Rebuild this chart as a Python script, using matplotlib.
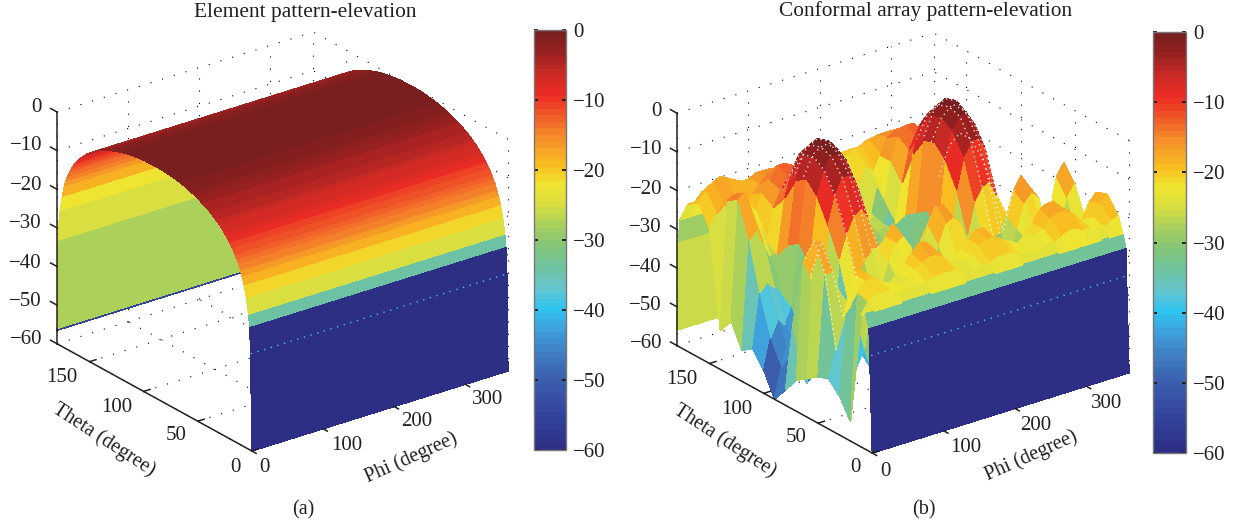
import numpy as np
import matplotlib
matplotlib.use('Agg')
import matplotlib.pyplot as plt
from matplotlib.colors import LinearSegmentedColormap, Normalize
from matplotlib.cm import ScalarMappable
from mpl_toolkits.mplot3d import proj3d

plt.rcParams['font.family'] = ['Liberation Serif', 'DejaVu Serif']

W, H = 1237, 526
INK = '#231f20'

# colours, top (0) to bottom (-60)
cbar_levels = [0, -3, -6, -9, -12, -15, -19, -22, -25, -28, -31, -34, -37, -40, -43, -46, -50, -55, -60]
cbar_colours = ['#7a1f1f', '#9b2020', '#cc2a25', '#ed2b24', '#f05a28', '#f58c2a', '#f8bc20', '#efe52f',
                '#d7de42', '#a6cf5e', '#82c57a', '#6fc2a0', '#65c6cf', '#2fc3ef', '#3fa0db', '#3f81c4',
                '#3c60ae', '#33449c', '#2d2f85']

phi_ticks = [0, 100, 200, 300]
theta_ticks = [0, 50, 100, 150]
z_ticks = [-60, -50, -40, -30, -20, -10, 0]

# (a) element pattern, same for every phi
element_phi = list(range(0, 361, 5))
element_theta = [0, 1, 2, 3, 5, 7, 9, 10.5, 12, 13.5, 15, 17.5, 20, 22.5, 25, 27.5, 30, 32.5, 35, 37.5, 40,
                 45, 50, 55, 60, 65, 70, 75, 80, 90, 100, 105, 110, 115, 120, 125, 130, 135, 140, 142.5, 145,
                 147.5, 150, 152.5, 155, 157.5, 160, 162.5, 165, 166.5, 168, 170, 171.5, 173, 175, 177,
                 178, 179, 179.9, 180]
element_db = [-60, -35, -28, -25, -21, -18, -16, -14.7, -13.5, -12.6, -11.7, -10.4, -9.3, -8.4, -7.5, -6.7,
              -6, -5.4, -4.8, -4.3, -3.8, -3, -2.3, -1.7, -1.2, -0.8, -0.5, -0.3, -0.1, 0, -0.1, -0.3, -0.5,
              -0.8, -1.2, -1.7, -2.3, -3, -3.8, -4.3, -4.8, -5.4, -6, -6.7, -7.5, -8.4, -9.3, -10.4, -11.7,
              -12.6, -13.5, -15, -16.4, -18, -21, -25, -28, -33, -56, -56.5]
# bands whose colour does not follow their edge values: first three and last five
element_near_bands = [-60, -60, -34]
element_far_bands = [-22, -25, -25, -27.5, -55]

# (b) conformal array pattern, one row per theta, one column per phi
conformal_phi = list(range(0, 361, 10))
conformal_theta = [0, 3, 6, 10, 20, 30, 40, 50, 60, 70, 80, 90, 100, 110, 120, 130, 140, 150, 160, 170, 177, 179, 180]
conformal_db = [
    [-60] * 37,
    [-28] * 37,
    [-25] * 37,
    [-26, -23, -22, -22, -22, -23, -23, -24, -23, -23, -22, -22, -22, -22, -23, -24, -24, -23, -23,
     -22, -22, -22, -23, -23, -24, -24, -23, -23, -22, -21, -21, -22, -22, -23, -23, -22, -21],
    [-55, -22, -20, -20, -21, -22, -23, -24, -23, -21, -20, -19, -19, -20, -22, -24, -23, -22, -20,
     -19, -19, -20, -21, -22, -23, -23, -22, -21, -19, -18, -18, -19, -21, -23, -22, -19, -17],
    [-50, -28, -20, -19, -21, -23, -25, -25, -23, -21, -19, -17, -17, -19, -22, -25, -24, -22, -20,
     -18, -18, -20, -22, -25, -26, -25, -23, -21, -18, -17, -17, -19, -22, -25, -24, -20, -18],
    [-47, -40, -32, -30, -34, -42, -48, -40, -33, -30, -28, -27, -28, -32, -40, -46, -38, -30, -27,
     -26, -28, -33, -40, -46, -40, -33, -30, -29, -27, -26, -27, -32, -38, -44, -36, -30, -27],
    [-48, -22, -22, -28, -38, -50, -45, -38, -32, -30, -24, -20, -19, -22, -32, -50, -34, -24, -19,
     -18, -20, -28, -42, -52, -42, -36, -33, -32, -26, -20, -18, -20, -30, -46, -30, -22, -19],
    [-50, -15, -16, -25, -42, -55, -35, -28, -24, -22, -22, -20, -17, -20, -36, -56, -30, -20, -16,
     -16, -19, -30, -48, -50, -36, -30, -28, -28, -24, -18, -15, -18, -32, -52, -28, -18, -15],
    [-52, -22, -26, -38, -52, -48, -24, -18, -14, -13, -16, -26, -34, -44, -54, -46, -36, -28, -24,
     -26, -32, -42, -50, -44, -28, -20, -17, -16, -20, -30, -38, -46, -55, -50, -42, -34, -28],
    [-56, -40, -48, -56, -54, -38, -17, -10, -6, -6, -9, -18, -34, -50, -48, -38, -32, -30, -32,
     -38, -48, -56, -48, -34, -18, -10, -7, -7, -10, -20, -36, -52, -50, -42, -40, -44, -50],
    [-60, -52, -50, -50, -46, -28, -11, -5, -2, -2, -4, -12, -28, -48, -44, -34, -30, -29, -30,
     -36, -46, -54, -46, -30, -12, -5, -2, -2, -5, -14, -30, -50, -48, -42, -42, -48, -58],
    [-54, -46, -42, -44, -40, -24, -8, -3, -1, 0, -2, -9, -24, -44, -42, -32, -28, -27, -28,
     -34, -44, -52, -42, -26, -9, -3, -1, 0, -3, -11, -26, -48, -46, -40, -40, -46, -54],
    [-50, -36, -34, -36, -38, -26, -10, -4, -2, -1, -3, -10, -26, -42, -38, -30, -27, -26, -28,
     -34, -42, -48, -40, -28, -10, -4, -2, -1, -3, -11, -28, -46, -44, -40, -40, -44, -50],
    [-52, -24, -22, -26, -30, -30, -16, -10, -6, -5, -7, -14, -32, -46, -34, -26, -24, -24, -27,
     -34, -44, -46, -38, -30, -15, -8, -6, -5, -8, -16, -34, -48, -42, -36, -34, -36, -40],
    [-46, -15, -14, -20, -24, -28, -20, -16, -14, -13, -15, -24, -42, -40, -28, -22, -21, -22, -28,
     -40, -50, -40, -30, -34, -24, -16, -14, -14, -16, -26, -44, -44, -34, -30, -28, -30, -32],
    [-50, -17, -16, -20, -20, -22, -18, -15, -12, -12, -13, -20, -36, -42, -26, -20, -19, -20, -26,
     -38, -46, -34, -26, -30, -20, -14, -12, -12, -14, -22, -40, -40, -30, -28, -28, -30, -32],
    [-25, -22, -20, -22, -22, -22, -20, -18, -16, -15, -16, -20, -28, -34, -24, -19, -18, -19, -24,
     -30, -32, -26, -22, -24, -20, -16, -15, -15, -16, -20, -30, -32, -28, -26, -26, -28, -30],
    [-20, -18, -16, -15, -16, -17, -18, -18, -17, -17, -17, -18, -20, -21, -20, -19, -19, -19, -20,
     -21, -21, -20, -19, -19, -18, -17, -17, -17, -17, -18, -20, -21, -21, -20, -20, -21, -22],
    [-22, -22, -20, -20, -20, -20, -21, -21, -21, -20, -20, -20, -21, -21, -21, -21, -21, -21, -21,
     -21, -21, -21, -21, -21, -21, -20, -20, -20, -20, -21, -21, -21, -21, -21, -21, -22, -22],
    [-27] * 37,
    [-33] * 37,
    [-56] * 37,
]
# phi columns and theta range carrying the white dotted stripes on the lobes
stripe_phi = [70, 80, 90, 100, 260, 270, 280, 290, 10, 20]
stripe_theta = [(60, 130)] * 8 + [(40, 70), (40, 70)]

stops = [(0 - v) / 60 for v in cbar_levels]
cmap = LinearSegmentedColormap.from_list('pattern', list(zip(stops, cbar_colours)), N=64).reversed()
norm = Normalize(-60, 0)

fig = plt.figure(figsize=(W / 100, H / 100), dpi=100)


def px(x, y):
    return x / W, 1 - y / H


def to_pixels(ax, x, y, z):
    xp, yp, _ = proj3d.proj_transform(x, y, z, ax.get_proj())
    return ax.transData.transform((xp, yp))


def fit_axes(ax, origin, corner):
    # move and scale the axes so the box corners land on the reference pixels
    t0 = np.array([origin[0], H - origin[1]], float)
    t1 = np.array([corner[0], H - corner[1]], float)
    side = 700.0
    ax.set_position([(t0[0] - side / 2) / W, (t0[1] - side / 2) / H, side / W, side / H])
    for i in range(3):
        ax.apply_aspect()
        p0 = to_pixels(ax, 0, 0, -60)
        p1 = to_pixels(ax, 360, 180, 0)
        side = side * np.linalg.norm(t1 - t0) / np.linalg.norm(p1 - p0)
        mid = (t0 + t1) / 2
        pm = (p0 + p1) / 2
        pos = ax.get_position()
        cx = pos.x0 * W + pos.width * W / 2 + (mid - pm)[0]
        cy = pos.y0 * H + pos.height * H / 2 + (mid - pm)[1]
        ax.set_position([(cx - side / 2) / W, (cy - side / 2) / H, side / W, side / H])
    ax.apply_aspect()


def draw_box(ax):
    dots = dict(color='black', lw=0.8, linestyle=(0, (1, 10)), zorder=1)
    for p in phi_ticks:
        ax.plot([p, p], [0, 180], [-60, -60], **dots)
        ax.plot([p, p], [180, 180], [-60, 0], **dots)
    for t in theta_ticks:
        ax.plot([0, 360], [t, t], [-60, -60], **dots)
        ax.plot([360, 360], [t, t], [-60, 0], **dots)
    for z in z_ticks:
        ax.plot([0, 360], [180, 180], [z, z], **dots)
        ax.plot([360, 360], [0, 180], [z, z], **dots)
    ax.plot([360, 360], [180, 180], [-60, 0], **dots)
    solid = dict(color=INK, lw=1.1, zorder=4)
    ax.plot([0, 0], [180, 180], [-60, 0], **solid)
    ax.plot([0, 0], [0, 180], [-60, -60], **solid)
    for z in z_ticks:
        ax.plot([0, 0], [180, 186], [z, z], **solid)
    for t in theta_ticks:
        ax.plot([0, 9], [t, t], [-60, -60], **solid)
    for p in phi_ticks:
        ax.plot([p, p], [0, -4], [-60, -60], **solid)


def draw_panel(phi, theta, z, band, origin, corner):
    ax = fig.add_axes([0, 0, 0.5, 0.5], projection='3d', proj_type='ortho', computed_zorder=False)
    ax.view_init(elev=24.5, azim=-127)
    ax.set_box_aspect((321, 324, 255))
    ax.set_xlim(0, 360)
    ax.set_ylim(0, 180)
    ax.set_zlim(-60, 0)
    ax.set_axis_off()
    draw_box(ax)
    P, T = np.meshgrid(phi, theta)
    ax.plot_surface(P, T, z, facecolors=cmap(norm(band)), rstride=1, cstride=1, shade=False,
                    antialiased=False, linewidth=0.3, zorder=2)
    ax.plot(phi, np.full(len(phi), 1.0), np.full(len(phi), -35.0), color='#45c4e8', lw=1,
            linestyle=(0, (1, 4)), zorder=3)
    fit_axes(ax, origin, corner)
    return ax


def draw_colorbar(x0, x1, y0, y1):
    cax = fig.add_axes([x0 / W, 1 - y1 / H, (x1 - x0) / W, (y1 - y0) / H])
    cb = fig.colorbar(ScalarMappable(norm=norm, cmap=cmap), cax=cax, ticks=z_ticks)
    cb.ax.tick_params(direction='in', left=True, right=True, length=3, width=1.4, labelsize=15,
                      pad=5, color=INK, labelcolor=INK)
    cb.outline.set_edgecolor('#777777')
    cb.outline.set_linewidth(1)


def label(x, y, s, size=15, **kw):
    fig.text(*px(x, y), s, fontsize=size, color=INK, va='center', **kw)


# panel (a)
db_a = np.array(element_db, float)
th_a = np.array(element_theta, float)
near = th_a[:-1] < 90
bands = np.where(near, np.minimum(db_a[:-1], db_a[1:]), np.maximum(db_a[:-1], db_a[1:]))
bands[:3] = element_near_bands
bands[-5:] = element_far_bands
z_a = np.tile(db_a[:, None], (1, len(element_phi)))
band_a = np.tile(bands[:, None], (1, len(element_phi) - 1))
draw_panel(element_phi, element_theta, z_a, band_a, (252, 451), (313, 32))

# panel (b)
z_b = np.array(conformal_db, float)
corners = np.stack([z_b[:-1, :-1], z_b[1:, :-1], z_b[:-1, 1:], z_b[1:, 1:]])
band_b = 0.35 * corners.max(axis=0) + 0.65 * corners.mean(axis=0)
band_b[0] = -60
band_b[1] = -33
band_b[-1] = -26
ax_b = draw_panel(conformal_phi, conformal_theta, z_b, band_b, (872, 453), (934, 33))
th_b = np.array(conformal_theta)
for p, (t0, t1) in zip(stripe_phi, stripe_theta):
    rows = (th_b >= t0) & (th_b <= t1)
    col = conformal_phi.index(p)
    ax_b.plot(np.full(rows.sum(), p), th_b[rows], z_b[rows, col], color='white', lw=0.9,
              linestyle=(0, (1, 3)), zorder=3)

draw_colorbar(534, 566, 30, 450)
draw_colorbar(1153, 1186, 32, 453)

z_labels = ['0', '\u221210', '\u221220', '\u221230', '\u221240', '\u221250', '\u221260']
for s, ya, yb in zip(z_labels, [108, 146, 185, 224, 263, 302, 340], [111, 150, 190, 228, 267, 305, 344]):
    label(42, ya, s, ha='right')
    label(662, yb, s, ha='right')

for s, xy in zip(['150', '100', '50', '0'], [(62, 377), (117, 407), (176, 436), (235, 467)]):
    label(*xy, s, ha='center')
for s, xy in zip(['0', '100', '200', '300'], [(264, 467), (347, 446), (417, 422), (488, 399)]):
    label(*xy, s, ha='center')
for s, xy in zip(['150', '100', '50', '0'], [(682, 380), (737, 409), (796, 438), (855, 468)]):
    label(*xy, s, ha='center')
for s, xy in zip(['0', '100', '200', '300'], [(885, 471), (966, 448), (1036, 425), (1107, 403)]):
    label(*xy, s, ha='center')

label(104, 440, 'Theta (degree)', size=14.5, ha='center', rotation=-33, rotation_mode='anchor')
label(411, 458, 'Phi (degree)', size=14.5, ha='center', rotation=24, rotation_mode='anchor')
label(725, 441, 'Theta (degree)', size=14.5, ha='center', rotation=-33, rotation_mode='anchor')
label(1031, 456, 'Phi (degree)', size=14.5, ha='center', rotation=24, rotation_mode='anchor')

label(305, 13, 'Element pattern-elevation', size=15.4, ha='center')
label(926, 11, 'Conformal array pattern-elevation', size=15.4, ha='center')
label(303, 510, '(a)', size=14.5, ha='center')
label(924, 510, '(b)', size=14.5, ha='center')

fig.savefig('out.png', dpi=100)
